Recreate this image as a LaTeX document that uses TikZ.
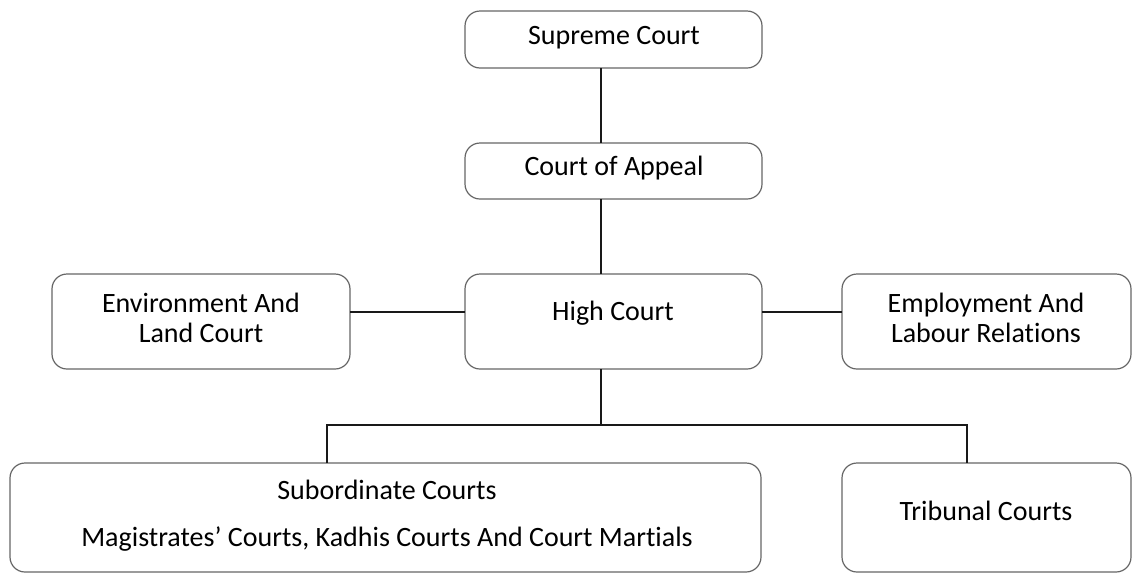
\documentclass[tikz,border=0pt]{standalone}
\usepackage{fontspec}
\setmainfont{Carlito}[Ligatures={NoCommon}]
\begin{document}
\begin{tikzpicture}[x=1pt,y=-1pt,
  courtbox/.style={draw=black!60, line width=1.2pt, rounded corners=15pt, fill=white},
  courttext/.style={font=\fontsize{28}{30}\selectfont, text=black, align=center, inner sep=0pt},
  link/.style={draw=black!90, line width=2.2pt}]
\useasboundingbox (0,0) rectangle (1133,574);
% boxes
\draw[courtbox] (465,11) rectangle (762,68) coordinate[pos=0.5] (supreme);
\draw[courtbox] (465,143) rectangle (762,199) coordinate[pos=0.5] (appeal);
\draw[courtbox] (52,274) rectangle (350,369) coordinate[pos=0.5] (env);
\draw[courtbox] (465,274) rectangle (762,369) coordinate[pos=0.5] (high);
\draw[courtbox] (842,274) rectangle (1131,369) coordinate[pos=0.5] (emp);
\draw[courtbox] (10,463) rectangle (761,572) coordinate[pos=0.5] (sub);
\draw[courtbox] (842,463) rectangle (1131,572) coordinate[pos=0.5] (trib);
% named anchors for connectors
\coordinate (supB) at (601,68);
\coordinate (appT) at (601,143);
\coordinate (appB) at (601,199);
\coordinate (highT) at (601,274);
\coordinate (highB) at (601,369);
\coordinate (highL) at (465,312);
\coordinate (highR) at (762,312);
\coordinate (envR) at (350,312);
\coordinate (empL) at (842,312);
\coordinate (bus) at (601,425);
\coordinate (busL) at (327,425);
\coordinate (busR) at (967,425);
\coordinate (subT) at (327,463);
\coordinate (tribT) at (967,463);
% connectors
\draw[link] (supB) -- (appT);
\draw[link] (appB) -- (highT);
\draw[link] (envR) -- (highL);
\draw[link] (highR) -- (empL);
\draw[link] (highB) -- (bus);
\draw[link] (subT) -- (busL) -- (busR) -- (tribT);
% texts
\node[courttext] (tsupreme) at (614,38) {Supreme Court};
\node[courttext] (tappeal) at (614,168) {Court of Appeal};
\node[courttext] (tenv) at (201,318) {Environment And\\Land Court};
\node[courttext] (thigh) at (613,313) {High Court};
\node[courttext] (temp) at (986,318) {Employment And\\Labour Relations};
\node[courttext] (tsub) at (387,515.5) {Subordinate Courts\\[17pt]Magistrates’ Courts, Kadhis Courts And Court Martials};
\node[courttext] (ttrib) at (986,511) {Tribunal Courts};
\end{tikzpicture}
\end{document}
